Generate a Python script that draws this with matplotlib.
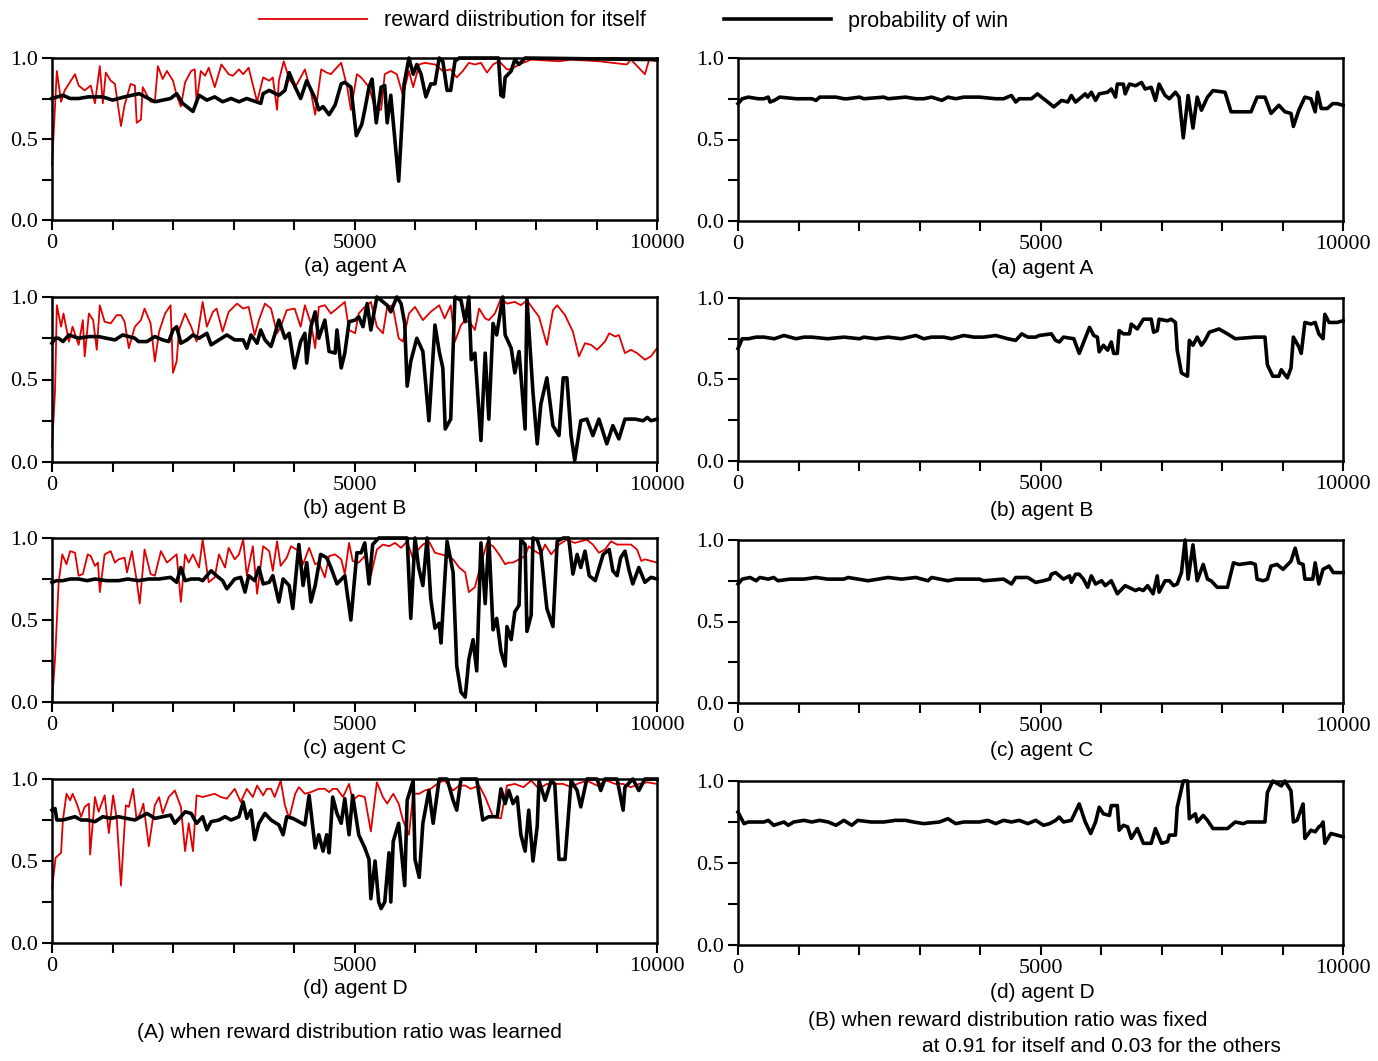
import matplotlib
matplotlib.use('Agg')
import matplotlib.pyplot as plt

# (step, value) pairs
# (A) learned ratio: reward for itself (red) and probability of win (black)
a_learn_reward = [(0,0.34),(80,0.92),(150,0.73),(210,0.80),(380,0.90),(440,0.83),(540,0.80),(640,0.83),(710,0.72),(790,0.95),
    (840,0.72),(890,0.91),(970,0.86),(1040,0.84),(1140,0.58),(1200,0.71),(1300,0.84),(1370,0.83),(1400,0.60),(1470,0.62),
    (1500,0.82),(1630,0.73),(1700,0.73),(1750,0.95),(1830,0.87),(1900,0.92),(2000,0.86),(2060,0.77),(2130,0.70),(2200,0.85),
    (2300,0.92),(2360,0.93),(2390,0.73),(2460,0.92),(2530,0.89),(2590,0.94),(2690,0.82),(2800,0.96),(2920,0.90),(2990,0.89),
    (3090,0.93),(3160,0.90),(3250,0.94),(3350,0.79),(3390,0.73),(3490,0.88),(3590,0.86),(3650,0.88),(3720,0.68),(3750,0.86),
    (3830,0.98),(3920,0.87),(4020,0.82),(4110,0.88),(4180,0.93),(4280,0.79),(4350,0.65),(4450,0.93),(4540,0.91),(4610,0.90),
    (4680,0.93),(4780,0.97),(4880,0.82),(4940,0.68),(5040,0.90),(5110,0.88),(5240,0.82),(5340,0.69),(5440,0.68),(5500,0.90),
    (5600,0.92),(5700,0.90),(5800,0.77),(5900,0.92),(5970,0.82),(6070,0.96),(6160,0.97),(6330,0.96),(6460,0.92),(6590,0.93),
    (6690,0.88),(6790,0.92),(6890,0.97),(6990,0.96),(7090,0.97),(7190,0.91),(7290,0.96),(7390,0.98),(7520,0.93),(7590,0.93),
    (7720,0.96),(7920,0.99),(8380,0.98),(8580,0.99),(9040,0.98),(9500,0.96),(9570,0.99),(9800,0.90),(9870,0.99),(10000,0.98)]
a_learn_win = [(0,0.75),(180,0.77),(300,0.75),(440,0.75),(600,0.76),(840,0.76),(1000,0.74),(1200,0.76),(1440,0.78),(1700,0.73),
    (1960,0.75),(2060,0.78),(2160,0.72),(2330,0.67),
    (2430,0.77),(2560,0.74),(2690,0.76),(2820,0.73),(2960,0.75),(3090,0.73),(3220,0.75),(3450,0.72),(3490,0.78),(3590,0.80),
    (3750,0.77),(3850,0.80),(3920,0.91),(4020,0.82),(4110,0.75),(4210,0.86),(4350,0.75),(4410,0.68),(4480,0.70),(4580,0.65),
    (4680,0.71),(4780,0.84),(4840,0.85),(4940,0.82),(5030,0.52),(5120,0.59),(5170,0.68),(5240,0.82),(5290,0.87),(5360,0.60),
    (5440,0.82),(5500,0.83),(5540,0.60),(5600,0.77),(5730,0.24),(5820,0.84),(5900,1.0),(5970,0.90),(6030,0.96),(6100,0.90),
    (6180,0.76),(6260,0.84),(6330,0.84),(6400,1.0),(6460,0.98),(6530,0.80),(6590,0.80),(6660,0.98),(6730,1.0),(7380,1.0),
    (7420,0.77),(7460,0.76),(7490,0.88),(7590,0.92),(7650,0.99),(7720,0.96),(7820,1.0),(10000,0.99)]

b_learn_reward = [(0,0.09),(50,0.43),(80,0.95),(150,0.82),(190,0.90),(280,0.73),(340,0.82),(440,0.71),(510,0.86),(540,0.64),
    (610,0.90),(680,0.86),(740,0.68),(790,0.95),(870,0.85),(970,0.84),(1070,0.89),(1140,0.89),(1200,0.85),(1270,0.69),
    (1370,0.82),(1470,0.86),(1530,0.93),(1630,0.84),(1700,0.61),(1770,0.79),(1870,0.90),(1960,0.95),(2000,0.54),(2060,0.61),
    (2100,0.80),(2200,0.90),(2300,0.82),(2390,0.73),(2490,0.97),(2560,0.82),(2660,0.91),(2720,0.93),(2820,0.79),(2920,0.91),
    (3060,0.96),(3160,0.93),(3250,0.94),(3350,0.77),(3420,0.86),(3520,0.96),(3620,0.93),(3720,0.78),(3780,0.82),(3880,0.92),
    (4010,0.93),(4110,0.82),(4180,0.95),(4280,0.84),(4350,0.69),(4410,0.94),(4510,0.95),(4610,0.90),(4710,0.93),(4840,0.97),
    (4910,0.80),(5010,0.78),(5070,0.90),(5170,0.94),(5270,0.97),(5370,0.82),(5470,0.78),(5540,0.94),(5630,0.95),(5730,0.75),
    (5800,0.73),(5900,0.90),(6000,0.94),(6130,0.86),(6260,0.91),(6400,0.95),(6490,0.87),(6590,0.95),(6660,0.73),(6760,0.83),
    (6830,0.86),(6920,0.84),(6990,0.80),(7060,0.93),(7160,0.87),(7220,0.86),(7320,0.90),(7420,0.99),(7520,0.96),(7650,0.97),
    (7750,0.95),(7850,0.98),(7950,0.93),(8050,0.88),(8180,0.71),(8280,0.92),(8350,0.95),(8480,0.89),(8610,0.79),(8710,0.64),
    (8810,0.72),(8910,0.71),(9010,0.68),(9140,0.73),(9210,0.78),(9310,0.76),(9370,0.77),(9470,0.66),(9570,0.68),(9670,0.66),
    (9800,0.62),(9900,0.64),(10000,0.69)]
b_learn_win = [(0,0.72),(50,0.75),(110,0.75),(180,0.73),(280,0.77),(440,0.75),(600,0.76),(770,0.76),(900,0.75),(1040,0.74),
    (1170,0.77),(1370,0.75),
    (1430,0.73),(1570,0.73),(1700,0.76),(1830,0.74),(1930,0.73),(2000,0.80),(2060,0.82),(2130,0.72),(2230,0.74),(2330,0.77),
    (2430,0.75),(2560,0.78),(2630,0.71),(2760,0.74),(2890,0.77),(3020,0.74),(3160,0.74),(3220,0.69),(3290,0.77),(3390,0.72),
    (3450,0.80),(3520,0.74),(3620,0.70),(3680,0.77),(3750,0.86),(3850,0.75),(3920,0.78),(4010,0.57),(4110,0.73),(4180,0.78),
    (4210,0.60),(4280,0.82),(4350,0.91),(4410,0.75),(4510,0.86),(4580,0.67),(4680,0.66),(4710,0.80),(4780,0.57),(4840,0.66),
    (4910,0.85),(5010,0.86),(5070,0.88),(5140,0.82),(5210,0.96),(5270,0.80),(5370,1.0),(5440,0.98),(5540,0.95),(5600,0.91),
    (5700,1.0),(5770,0.96),(5830,0.84),(5870,0.46),(5930,0.61),(6030,0.75),(6130,0.67),(6230,0.25),(6330,0.83),(6400,0.67),
    (6460,0.57),(6500,0.20),(6590,0.26),(6660,1.0),(6760,0.98),(6830,0.85),(6890,1.0),(6930,0.62),(6990,0.66),(7090,0.13),
    (7160,0.66),(7220,0.26),(7290,0.84),(7350,0.77),(7450,1.0),(7490,0.77),(7590,0.69),(7650,0.54),(7720,0.67),(7820,0.20),
    (7850,0.99),(7950,0.42),(8020,0.11),(8080,0.35),(8180,0.51),(8280,0.22),(8380,0.16),(8450,0.51),(8510,0.51),(8580,0.16),
    (8640,0.01),(8740,0.25),(8840,0.26),(8940,0.16),(9040,0.26),(9170,0.11),(9270,0.22),(9370,0.14),(9470,0.26),(9640,0.26),
    (9770,0.25),(9840,0.27),(9900,0.25),(10000,0.26)]

c_learn_reward = [(0,0.0),(50,0.26),(110,0.73),(170,0.90),(240,0.84),(300,0.92),(380,0.91),(440,0.77),(510,0.78),(590,0.90),
    (640,0.89),(710,0.83),(760,0.85),(790,0.67),(870,0.90),(970,0.92),(1040,0.85),(1100,0.87),(1200,0.88),(1240,0.79),
    (1320,0.92),(1400,0.74),(1450,0.60),(1530,0.93),(1630,0.78),(1700,0.77),(1800,0.92),(1900,0.85),(2060,0.90),(2130,0.61),
    (2200,0.90),(2260,0.85),(2330,0.90),(2430,0.82),(2490,0.99),(2590,0.73),(2690,0.76),(2760,0.90),(2860,0.82),(2920,0.94),
    (3020,0.87),(3090,0.90),(3160,0.99),(3220,0.77),(3320,0.95),(3390,0.66),(3490,0.95),(3590,0.92),(3650,0.80),(3720,0.98),
    (3780,0.83),(3880,0.88),(3950,0.95),(4080,0.92),(4150,0.84),(4250,0.94),(4350,0.84),(4410,0.85),(4510,0.76),(4580,0.89),
    (4680,0.90),(4780,0.87),(4840,0.78),(4910,0.97),(4970,0.86),(5070,0.85),(5170,0.89),(5270,0.77),(5370,0.93),(5470,0.96),
    (5570,0.95),(5670,0.97),(5770,0.94),(5870,0.98),(5970,0.87),(6030,0.92),(6130,0.96),(6230,0.98),(6330,0.91),(6430,0.90),
    (6530,0.89),(6630,0.87),(6730,0.82),(6830,0.79),(6890,0.67),(6990,0.70),(7090,0.84),(7190,0.97),(7290,0.95),(7390,0.90),
    (7490,0.84),(7550,0.85),(7620,0.85),(7720,0.87),(7820,0.89),(7880,0.95),(7980,0.92),(8080,0.90),(8150,0.96),(8250,0.90),
    (8380,0.96),(8510,0.99),(8640,0.97),(8740,0.98),(8840,0.99),(8940,0.96),(9040,0.91),(9140,0.93),(9240,0.98),(9340,0.96),
    (9470,0.96),(9570,0.96),(9670,0.93),(9740,0.86),(9800,0.87),(10000,0.85)]
c_learn_win = [(0,0.73),(80,0.74),(180,0.74),(300,0.75),(440,0.75),(580,0.74),(710,0.75),(900,0.74),(1100,0.74),(1250,0.75),
    (1430,0.74),(1600,0.75),(1770,0.75),(1960,0.76),(2060,0.73),
    (2130,0.82),(2200,0.74),(2300,0.75),(2430,0.75),(2490,0.74),(2630,0.80),(2720,0.77),(2820,0.74),(2890,0.69),(3020,0.75),
    (3120,0.76),(3190,0.67),(3250,0.77),(3350,0.74),(3420,0.82),(3490,0.72),(3590,0.73),(3650,0.77),(3750,0.61),(3820,0.75),
    (3920,0.71),(3980,0.57),(4080,0.96),(4150,0.71),(4210,0.85),(4280,0.61),(4350,0.71),(4440,0.90),(4540,0.88),(4610,0.82),
    (4710,0.72),(4840,0.77),(4940,0.50),(5040,0.91),(5110,0.91),(5170,0.97),(5240,0.72),(5300,0.96),(5400,1.0),(5870,1.0),
    (5930,0.51),(6000,1.0),(6060,0.82),(6130,0.71),(6200,1.0),(6260,0.63),(6330,0.45),(6400,0.48),(6430,0.36),(6530,0.98),
    (6630,0.79),(6690,0.22),(6760,0.06),(6830,0.03),(6890,0.26),(6960,0.38),(7020,0.19),(7090,0.97),(7160,0.60),(7220,1.0),
    (7290,0.44),(7350,0.51),(7420,0.31),(7490,0.22),(7520,0.46),(7590,0.38),(7650,0.55),(7720,0.59),(7750,0.99),(7820,0.96),
    (7850,0.43),(7920,0.53),(7950,1.0),(8020,0.99),(8080,0.92),(8180,0.57),(8280,0.46),(8350,0.98),(8450,1.0),(8540,1.0),
    (8610,0.78),(8680,0.90),(8740,0.82),(8810,0.92),(8880,0.77),(8980,0.74),(9110,0.90),(9210,0.93),(9270,0.80),(9340,0.77),
    (9400,0.88),(9470,0.92),(9540,0.80),(9600,0.72),(9700,0.82),(9800,0.73),(9900,0.76),(10000,0.75)]

d_learn_reward = [(0,0.33),(60,0.52),(150,0.55),(180,0.75),(240,0.91),(300,0.87),(340,0.91),(410,0.85),(480,0.77),(540,0.83),
    (610,0.85),(630,0.54),(710,0.89),(770,0.80),(870,0.90),(940,0.67),(1010,0.90),(1070,0.76),(1140,0.35),(1220,0.84),
    (1270,0.83),(1340,0.94),(1400,0.75),(1470,0.80),(1510,0.85),(1600,0.59),(1700,0.84),(1770,0.89),(1830,0.79),(1930,0.89),
    (2030,0.93),(2130,0.83),(2200,0.56),(2260,0.73),(2330,0.56),(2390,0.90),(2490,0.89),(2590,0.90),(2690,0.91),(2790,0.89),
    (2890,0.88),(3020,0.94),(3120,0.86),(3220,0.94),(3320,0.89),(3390,0.96),(3490,0.90),(3550,0.94),(3620,0.94),(3680,0.89),
    (3780,0.99),(3850,0.84),(3920,0.76),(4020,0.91),(4080,0.95),(4180,0.91),(4280,0.92),(4410,0.94),(4510,0.94),(4580,0.92),
    (4640,0.94),(4710,0.94),(4810,0.89),(4910,0.97),(4970,0.87),(5070,0.90),(5170,0.89),(5270,0.68),(5370,0.98),(5470,0.89),
    (5540,0.85),(5640,0.91),(5730,0.85),(5800,0.75),(5900,0.66),(5970,0.91),(6070,0.91),(6160,0.93),(6260,0.94),(6400,0.98),
    (6490,0.99),(6630,0.93),(6730,0.96),(6830,0.96),(6920,0.94),(7060,0.96),(7160,0.89),(7290,0.77),(7420,0.76),(7520,0.96),
    (7650,0.97),(7790,0.95),(7920,0.99),(8050,0.94),(8180,0.97),(8310,0.97),(8450,0.97),(8580,0.95),(8680,0.97),(8840,0.99),
    (9010,0.96),(9170,0.99),(9310,0.97),(9440,0.97),(9570,0.95),(9700,0.97),(9840,0.98),(10000,0.97)]
d_learn_win = [(0,0.81),(50,0.82),(80,0.75),(180,0.75),(280,0.76),(380,0.77),(480,0.75),(580,0.75),(710,0.74),(840,0.77),
    (970,0.76),(1100,0.77),(1230,0.76),(1370,0.75),
    (1570,0.79),(1700,0.76),(1960,0.78),(2030,0.73),(2130,0.77),(2200,0.80),(2300,0.79),(2390,0.73),(2490,0.77),(2560,0.69),
    (2630,0.74),(2760,0.75),(2860,0.77),(2960,0.75),(3090,0.77),(3160,0.86),(3220,0.76),(3290,0.81),(3350,0.63),(3420,0.73),
    (3520,0.79),(3620,0.75),(3750,0.72),(3820,0.66),(3880,0.77),(3980,0.76),(4080,0.74),(4180,0.72),(4250,0.90),(4350,0.58),
    (4410,0.66),(4480,0.56),(4540,0.66),(4580,0.55),(4640,0.89),(4710,0.79),(4780,0.73),(4840,0.88),(4910,0.66),(4970,0.90),
    (5070,0.66),(5170,0.58),(5240,0.51),(5270,0.27),(5340,0.50),(5400,0.25),(5440,0.21),(5500,0.25),(5570,0.55),(5600,0.25),
    (5640,0.62),(5730,0.73),(5830,0.35),(5870,0.87),(5970,0.99),(6000,0.51),(6070,0.40),(6130,0.73),(6230,0.93),(6300,0.73),
    (6400,1.0),(6530,1.0),(6630,0.87),(6690,0.81),(6760,1.0),(7020,1.0),(7120,0.75),(7220,0.77),(7360,0.77),(7420,0.94),
    (7490,0.85),(7550,0.93),(7620,0.85),(7690,0.89),(7750,0.66),(7820,0.56),(7880,0.81),(7950,0.50),(8020,0.71),(8050,0.99),
    (8150,0.87),(8250,0.99),(8310,0.97),(8380,0.51),(8480,0.51),(8580,0.99),(8680,0.93),(8740,0.83),(8840,1.0),(9010,1.0),
    (9070,0.93),(9140,1.0),(9340,1.0),(9440,0.81),(9470,0.95),(9600,1.0),(9700,0.93),(9800,1.0),(10000,1.0)]

# (B) fixed ratio: probability of win only
a_fixed_win = [(0,0.72),(70,0.75),(170,0.76),(330,0.75),(430,0.75),(500,0.76),(530,0.73),(600,0.74),(690,0.76),(960,0.75),
    (1220,0.75),(1290,0.74),(1350,0.76),(1490,0.76),(1620,0.76),(1750,0.75),(1810,0.75),(2010,0.76),(2080,0.75),
    (2410,0.76),(2480,0.75),(2770,0.76),(2940,0.75),(3070,0.75),(3200,0.76),(3370,0.74),(3470,0.76),(3600,0.75),(3730,0.76),
    (3990,0.76),(4260,0.75),(4390,0.75),(4520,0.77),(4590,0.73),(4650,0.75),(4850,0.75),(4950,0.78),
    (5050,0.75),(5120,0.73),(5220,0.70),(5350,0.74),(5450,0.73),(5510,0.77),(5580,0.73),(5740,0.78),(5780,0.76),(5840,0.79),
    (5910,0.74),(5970,0.78),(6110,0.79),(6170,0.81),(6240,0.76),(6270,0.84),(6370,0.84),(6400,0.78),(6470,0.84),(6570,0.83),
    (6670,0.85),(6730,0.81),(6830,0.82),(6900,0.74),(6960,0.84),(7060,0.77),(7130,0.75),(7230,0.79),(7290,0.76),(7360,0.51),
    (7440,0.77),(7520,0.57),(7590,0.76),(7660,0.68),(7760,0.76),(7850,0.80),(8050,0.79),(8150,0.67),(8480,0.67),(8580,0.76),
    (8710,0.76),(8810,0.66),(8940,0.71),(9040,0.67),(9140,0.66),(9180,0.58),(9270,0.68),(9370,0.76),(9470,0.75),(9540,0.67),
    (9580,0.79),(9640,0.69),(9740,0.69),(9830,0.72),(9900,0.72),(10000,0.71)]
b_fixed_win = [(0,0.69),(70,0.75),(170,0.75),(300,0.76),(430,0.76),(600,0.75),(760,0.77),(960,0.75),(1090,0.76),(1220,0.76),
    (1480,0.75),(1750,0.76),(2010,0.75),(2080,0.76),(2280,0.75),
    (2480,0.76),(2700,0.75),(2940,0.77),(3070,0.75),(3200,0.76),(3400,0.76),(3530,0.75),(3730,0.77),(3900,0.76),(4060,0.76),
    (4260,0.77),(4460,0.75),(4590,0.74),(4690,0.78),
    (4790,0.76),(4920,0.76),(4980,0.77),(5180,0.78),(5250,0.74),(5310,0.73),(5380,0.76),(5550,0.75),(5640,0.66),(5810,0.82),
    (5880,0.77),(5940,0.76),(5970,0.67),(6040,0.71),(6110,0.68),(6170,0.73),(6210,0.66),(6270,0.66),(6300,0.80),(6370,0.78),
    (6470,0.78),(6500,0.84),(6600,0.81),(6700,0.87),(6830,0.87),(6870,0.79),(6930,0.80),(6960,0.87),(7100,0.86),(7160,0.87),
    (7230,0.85),(7260,0.68),(7330,0.54),(7430,0.52),(7460,0.74),(7520,0.71),(7590,0.76),(7660,0.71),(7720,0.74),(7790,0.79),
    (7950,0.81),(8090,0.78),(8220,0.75),(8550,0.76),(8710,0.76),(8750,0.59),(8840,0.52),(8940,0.52),(8980,0.56),(9080,0.51),
    (9140,0.57),(9180,0.76),(9270,0.70),(9310,0.66),(9370,0.85),(9470,0.84),(9540,0.85),(9600,0.78),(9670,0.75),(9700,0.90),
    (9770,0.85),(9900,0.85),(10000,0.86)]
c_fixed_win = [(0,0.73),(70,0.76),(200,0.77),(300,0.75),(360,0.77),(500,0.76),(590,0.77),(660,0.75),(860,0.76),(1090,0.76),
    (1290,0.77),(1480,0.76),
    (1750,0.76),(1820,0.77),(2150,0.75),(2480,0.77),(2700,0.76),(2940,0.77),(3140,0.75),(3200,0.77),(3470,0.75),(3600,0.76),
    (3800,0.76),(3990,0.76),
    (4060,0.75),(4390,0.76),(4520,0.73),(4590,0.77),(4790,0.77),(4920,0.74),(5050,0.75),(5150,0.76),(5180,0.79),(5250,0.80),
    (5380,0.76),(5480,0.78),(5510,0.74),(5580,0.79),(5640,0.79),(5710,0.76),(5780,0.71),(5840,0.78),(5910,0.73),(6010,0.75),
    (6070,0.72),(6170,0.75),(6270,0.67),(6400,0.72),(6570,0.69),(6630,0.70),(6700,0.69),(6770,0.72),(6860,0.67),(6930,0.78),
    (6960,0.68),(7060,0.75),(7130,0.75),(7200,0.72),(7260,0.73),(7330,0.80),(7390,1.0),(7440,0.76),(7520,0.97),(7590,0.75),
    (7690,0.85),(7760,0.76),(7820,0.75),(7920,0.71),(8090,0.71),(8190,0.86),(8280,0.85),(8480,0.86),(8550,0.85),(8580,0.76),
    (8680,0.75),(8750,0.76),(8810,0.84),(8910,0.85),(9010,0.82),(9140,0.87),(9210,0.95),(9270,0.86),(9340,0.85),(9370,0.76),
    (9500,0.76),(9540,0.86),(9600,0.73),(9670,0.82),(9770,0.84),(9840,0.80),(10000,0.80)]
d_fixed_win = [(0,0.81),(100,0.74),(170,0.75),(430,0.75),(500,0.76),(590,0.73),(760,0.75),(830,0.73),(920,0.75),(1090,0.76),
    (1220,0.75),(1350,0.76),(1490,0.75),(1620,0.73),(1750,0.76),(1880,0.73),(1980,0.76),(2200,0.75),(2410,0.75),(2600,0.76),
    (2770,0.76),(2900,0.75),(3070,0.74),
    (3330,0.75),(3470,0.77),(3600,0.74),(3730,0.75),(3990,0.75),(4130,0.76),(4260,0.74),(4390,0.76),(4520,0.75),(4650,0.76),
    (4790,0.74),(4920,0.76),(5050,0.73),(5150,0.74),(5250,0.76),(5310,0.78),(5380,0.75),(5510,0.76),(5640,0.86),(5740,0.75),
    (5830,0.68),(5910,0.75),(5970,0.84),(6040,0.80),(6140,0.79),(6170,0.85),(6270,0.85),(6300,0.70),(6370,0.73),(6440,0.72),
    (6500,0.65),(6600,0.71),(6700,0.62),(6830,0.62),(6900,0.71),(7000,0.62),(7100,0.63),(7130,0.67),(7230,0.67),(7260,0.84),
    (7360,1.0),(7430,1.0),(7460,0.77),(7560,0.80),(7590,0.75),(7690,0.79),(7760,0.76),(7850,0.71),(7950,0.71),(8090,0.71),
    (8220,0.75),(8350,0.74),(8420,0.75),(8710,0.75),(8750,0.93),(8840,1.0),(8980,0.97),(9040,1.0),(9140,0.94),(9180,0.75),
    (9240,0.76),(9340,0.86),(9370,0.65),(9470,0.70),(9540,0.69),(9600,0.72),(9640,0.73),(9670,0.75),(9700,0.62),(9800,0.68),
    (9900,0.67),(10000,0.66)]

captions = ['(a) agent A', '(b) agent B', '(c) agent C', '(d) agent D']
learned = [(a_learn_reward, a_learn_win), (b_learn_reward, b_learn_win),
           (c_learn_reward, c_learn_win), (d_learn_reward, d_learn_win)]
fixed = [a_fixed_win, b_fixed_win, c_fixed_win, d_fixed_win]

W, H = 1378, 1061
fig = plt.figure(figsize=(W / 100, H / 100), dpi=100)

SANS = 'Liberation Sans'
SERIF = 'Liberation Serif'

# axes boxes in pixels: (left, top, right, bottom)
left_boxes = [(52, 58, 657, 220), (52, 297, 657, 462), (52, 538, 657, 702), (52, 779, 657, 943)]
right_boxes = [(738, 58, 1343, 221), (738, 298, 1343, 461), (738, 540, 1343, 703), (738, 781, 1343, 945)]
left_cap_y = [267, 509, 749, 988]
right_cap_y = [268, 510, 750, 992]


def make_ax(box):
    l, t, r, b = box
    ax = fig.add_axes([l / W, 1 - b / H, (r - l) / W, (b - t) / H])
    ax.set_xlim(0, 10000)
    ax.set_ylim(0, 1)
    ax.set_xticks(range(0, 10001, 1000))
    ax.set_xticklabels(['0', '', '', '', '', '5000', '', '', '', '', '10000'])
    ax.set_yticks([0, 0.25, 0.5, 0.75, 1.0])
    ax.set_yticklabels(['0.0', '', '0.5', '', '1.0'])
    ax.tick_params(direction='out', length=7, width=1.5, labelsize=16, pad=3)
    for lab in ax.get_xticklabels() + ax.get_yticklabels():
        lab.set_fontfamily(SERIF)
    for s in ax.spines.values():
        s.set_linewidth(1.8)
    return ax


def draw(ax, pairs, **kw):
    x, y = zip(*sorted(pairs))
    return ax.plot(x, y, clip_on=False, **kw)[0]


for i in range(4):
    ax = make_ax(left_boxes[i])
    rew, win = learned[i]
    hr = draw(ax, rew, color='#e00000', lw=1.3, zorder=2)
    hw = draw(ax, win, color='black', lw=2.6, zorder=3)
    fig.text(355 / W, 1 - left_cap_y[i] / H, captions[i], ha='center', va='center',
             fontsize=15, family=SANS)

    ax = make_ax(right_boxes[i])
    draw(ax, fixed[i], color='black', lw=2.6, zorder=3)
    fig.text(1042 / W, 1 - right_cap_y[i] / H, captions[i], ha='center', va='center',
             fontsize=15, family=SANS)

fig.legend([hr, hw], ['reward diistribution for itself', 'probability of win'],
           loc='center', bbox_to_anchor=(634 / W, 1 - 21 / H), ncol=2, frameon=False,
           handlelength=5.0, handletextpad=0.8, columnspacing=3.6,
           prop={'family': SANS, 'size': 15.5})

fig.text(349 / W, 1 - 1033 / H, '(A) when reward distribution ratio was learned',
         ha='center', va='center', fontsize=15, family=SANS)
fig.text(808 / W, 1 - 1020 / H, '(B) when reward distribution ratio was fixed',
         ha='left', va='center', fontsize=15, family=SANS)
fig.text(922 / W, 1 - 1047 / H, 'at 0.91 for itself and 0.03 for the others',
         ha='left', va='center', fontsize=15, family=SANS)

fig.savefig('out.png', dpi=100)
